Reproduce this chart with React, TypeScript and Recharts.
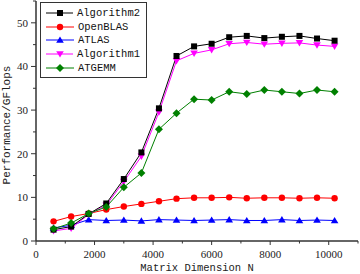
import React from "react";
import { LineChart, Line, XAxis, YAxis, Legend } from "recharts";

const sizes = [600, 1200, 1800, 2400, 3000, 3600, 4200, 4800, 5400, 6000, 6600, 7200, 7800, 8400, 9000, 9600, 10200];
const algorithm2 = [2.6, 3.3, 6.2, 8.6, 14.2, 20.3, 30.4, 42.4, 44.6, 45.2, 46.7, 47.0, 46.5, 46.8, 47.0, 46.4, 45.9];
const openblas = [4.5, 5.6, 6.3, 7.2, 7.9, 8.5, 9.1, 9.7, 9.9, 9.9, 10.0, 9.8, 9.9, 9.9, 9.8, 9.9, 9.8];
const atlas = [3.0, 3.6, 4.9, 4.7, 4.8, 4.6, 4.9, 4.8, 4.7, 4.8, 4.9, 4.7, 4.7, 4.9, 4.7, 4.8, 4.7];
const algorithm1 = [2.3, 2.9, 6.1, 8.2, 13.6, 19.4, 29.5, 41.3, 43.0, 43.8, 45.2, 45.5, 45.1, 45.3, 45.4, 44.9, 44.6];
const atgemm = [2.8, 4.1, 6.3, 7.8, 12.3, 15.6, 25.6, 29.3, 32.5, 32.3, 34.2, 33.7, 34.6, 34.2, 33.8, 34.6, 34.2];

const xTicks = [0, 1000, 2000, 3000, 4000, 5000, 6000, 7000, 8000, 9000, 10000, 11000];
const yTicks = [0, 5, 10, 15, 20, 25, 30, 35, 40, 45, 50, 55];
const xTitle = "Matrix Dimension N";
const yTitle = "Performance/GFlops";

const data = sizes.map((n, i) => ({
  n,
  algorithm2: algorithm2[i],
  openblas: openblas[i],
  atlas: atlas[i],
  algorithm1: algorithm1[i],
  atgemm: atgemm[i],
}));

type Shape = "square" | "circle" | "up" | "down" | "diamond";

const series: { key: string; name: string; color: string; shape: Shape }[] = [
  { key: "algorithm2", name: "Algorithm2", color: "#000000", shape: "square" },
  { key: "openblas", name: "OpenBLAS", color: "#ff0000", shape: "circle" },
  { key: "atlas", name: "ATLAS", color: "#0000ff", shape: "up" },
  { key: "algorithm1", name: "Algorithm1", color: "#ff00ff", shape: "down" },
  { key: "atgemm", name: "ATGEMM", color: "#008000", shape: "diamond" },
];

const drawOrder = ["atlas", "openblas", "algorithm1", "algorithm2", "atgemm"];

function marker(shape: Shape, color: string, cx: number, cy: number, key?: any) {
  switch (shape) {
    case "square":
      return <rect key={key} x={cx - 3} y={cy - 3} width={6} height={6} fill={color} />;
    case "circle":
      return <circle key={key} cx={cx} cy={cy} r={3.2} fill={color} />;
    case "up":
      return <polygon key={key} points={`${cx},${cy - 3.6} ${cx + 3.8},${cy + 2.8} ${cx - 3.8},${cy + 2.8}`} fill={color} />;
    case "down":
      return <polygon key={key} points={`${cx},${cy + 3.6} ${cx + 3.8},${cy - 2.8} ${cx - 3.8},${cy - 2.8}`} fill={color} />;
    case "diamond":
    default:
      return <polygon key={key} points={`${cx},${cy - 4} ${cx + 4},${cy} ${cx},${cy + 4} ${cx - 4},${cy}`} fill={color} />;
  }
}

const XTick = (props: any) => {
  const { x, y, payload } = props;
  const major = payload.value % 2000 === 0;
  return (
    <g>
      <line x1={x} x2={x} y1={y} y2={y + (major ? 4 : 2.5)} stroke="#333" strokeWidth={1} />
      {major && (
        <text x={x} y={y + 17} textAnchor="middle" fontFamily="'Liberation Serif', serif" fontSize={11} fill="#222">
          {payload.value}
        </text>
      )}
    </g>
  );
};

const YTick = (props: any) => {
  const { x, y, payload } = props;
  const major = payload.value % 10 === 0;
  return (
    <g>
      <line x1={x} x2={x - (major ? 5 : 3)} y1={y} y2={y} stroke="#333" strokeWidth={1} />
      {major && (
        <text x={x - 8} y={y + 4} textAnchor="end" fontFamily="'Liberation Serif', serif" fontSize={11} fill="#222">
          {payload.value}
        </text>
      )}
    </g>
  );
};

const LegendBox = () => (
  <div
    style={{
      border: "1.5px solid #333",
      background: "#fff",
      padding: "3px 6px 2px 5px",
      fontFamily: "'Liberation Mono', monospace",
      fontSize: 10.5,
      color: "#111",
      boxSizing: "border-box",
      width: 107,
    }}
  >
    {series.map((s) => (
      <div key={s.key} style={{ display: "flex", alignItems: "center", height: 13.8 }}>
        <svg width={28} height={12} style={{ display: "block" }}>
          <line x1={0} x2={28} y1={6} y2={6} stroke={s.color} strokeWidth={1} />
          {marker(s.shape, s.color, 14, 6)}
        </svg>
        <span style={{ marginLeft: 4, lineHeight: "12px" }}>{s.name}</span>
      </div>
    ))}
  </div>
);

export default function App() {
  return (
    <div style={{ width: 360, height: 274, background: "#fff" }}>
      <style>{"body{margin:0;background:#fff}"}</style>
      <LineChart width={360} height={274} data={data} margin={{ top: 1, right: 2, left: 0, bottom: 0 }}>
        <XAxis
          dataKey="n"
          type="number"
          domain={[0, 11000]}
          ticks={xTicks}
          interval={0}
          height={33}
          tickSize={0}
          tickMargin={0}
          tickLine={false}
          tick={<XTick />}
          axisLine={{ stroke: "#333", strokeWidth: 1.5 }}
          label={{
            content: (p: any) => {
              const vb = p.viewBox;
              return (
                <text x={vb.x + vb.width / 2} y={vb.y + 30} textAnchor="middle" fontFamily="'Liberation Mono', monospace" fontSize={10.5} fill="#222">
                  {xTitle}
                </text>
              );
            },
          }}
        />
        <YAxis
          type="number"
          domain={[0, 55]}
          ticks={yTicks}
          interval={0}
          width={36}
          tickSize={0}
          tickMargin={0}
          tickLine={false}
          tick={<YTick />}
          axisLine={{ stroke: "#333", strokeWidth: 1.5 }}
          label={{
            content: (p: any) => {
              const vb = p.viewBox;
              const cx = vb.x + 10;
              const cy = vb.y + vb.height / 2 + 4;
              return (
                <text x={cx} y={cy} transform={`rotate(-90, ${cx}, ${cy})`} textAnchor="middle" fontFamily="'Liberation Mono', monospace" fontSize={11} fill="#222">
                  {yTitle}
                </text>
              );
            },
          }}
        />
        <Legend
          layout="vertical"
          align="center"
          verticalAlign="middle"
          content={<LegendBox />}
          wrapperStyle={{ position: "absolute", left: 40, top: 2, width: 107, height: 73 }}
        />
        {drawOrder.map((k) => {
          const s = series.find((q) => q.key === k)!;
          return (
            <Line
              key={s.key}
              dataKey={s.key}
              name={s.name}
              stroke={s.color}
              strokeWidth={1}
              isAnimationActive={false}
              dot={(p: any) => marker(s.shape, s.color, p.cx, p.cy, `${s.key}-${p.index}`)}
              activeDot={false}
            />
          );
        })}
      </LineChart>
    </div>
  );
}
